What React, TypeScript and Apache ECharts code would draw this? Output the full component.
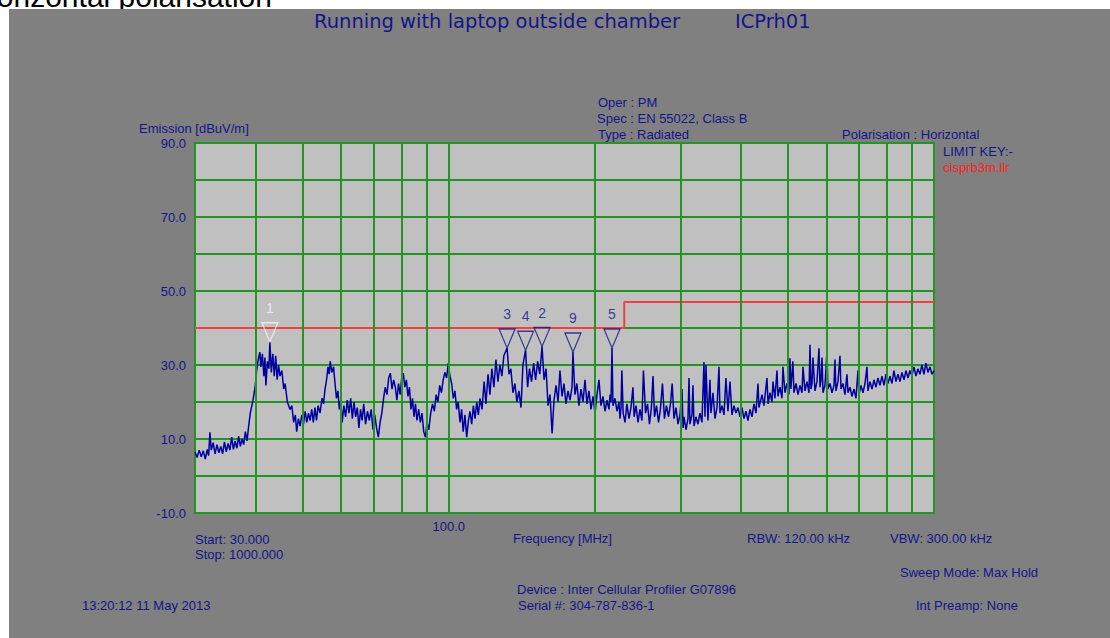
import React, { useEffect, useRef } from 'react';
import * as echarts from 'echarts';

// ---- data ----
const trace: [number, number][] = [
  [30.0, 6.5], [30.3, 5.0], [30.6, 7.0], [30.9, 5.2], [31.2, 6.8], [31.5, 4.6], [31.8, 7.2], [32.0, 5.5],
  [32.2, 11.8], [32.4, 7.0], [32.7, 9.0], [33.0, 6.0], [33.3, 8.5], [33.6, 6.3], [33.9, 8.0], [34.2, 6.0],
  [34.5, 9.2], [34.8, 6.5], [35.1, 8.8], [35.4, 7.0], [35.7, 10.5], [36.0, 7.2], [36.3, 9.5], [36.6, 7.5],
  [36.9, 10.8], [37.2, 8.0], [37.5, 10.0], [37.8, 8.5], [38.1, 12.0], [38.4, 9.5], [38.7, 13.5],
  [39.0, 17.0], [39.5, 20.5], [39.9, 24.0], [40.2, 28.5], [40.5, 31.5], [40.8, 33.5], [41.0, 29.5],
  [41.3, 33.0], [41.6, 27.0], [41.8, 32.0], [42.0, 24.5], [42.3, 31.0], [42.6, 29.0], [42.8, 36.3],
  [43.1, 28.0], [43.4, 33.0], [43.7, 27.0], [44.0, 32.5], [44.3, 26.0], [44.6, 30.0], [44.9, 27.0],
  [45.3, 28.5], [45.7, 23.5], [46.0, 25.0], [46.5, 20.0], [47.1, 18.0], [47.5, 19.0], [47.9, 14.5],
  [48.3, 16.5], [48.6, 12.0], [49.0, 15.5], [49.4, 13.5], [49.8, 16.5], [50.2, 14.0], [50.6, 17.5],
  [51.0, 14.5], [51.4, 17.0], [51.8, 15.0], [52.2, 18.0], [52.6, 14.5], [53.0, 18.5], [53.4, 15.0],
  [53.8, 19.0], [54.3, 17.0], [54.8, 21.0], [55.2, 19.5], [55.6, 23.5], [56.0, 26.0], [56.4, 29.5],
  [56.7, 27.5], [57.0, 31.0], [57.4, 28.0], [57.9, 29.5], [58.3, 25.0], [58.7, 21.0], [59.1, 23.0],
  [59.5, 18.0], [59.9, 20.5], [60.3, 14.5], [60.8, 19.0], [61.3, 16.0], [61.8, 20.5], [62.3, 17.0],
  [62.8, 21.0], [63.3, 15.5], [63.8, 20.0], [64.3, 16.0], [64.8, 18.5], [65.3, 13.0], [65.8, 18.0],
  [66.3, 15.0], [66.8, 19.5], [67.4, 14.0], [68.0, 17.5], [68.6, 15.0], [69.2, 18.0], [69.8, 12.5],
  [70.4, 16.5], [71.0, 13.0], [71.6, 10.5], [72.2, 14.5], [72.8, 17.0], [73.4, 21.0], [74.0, 24.0],
  [74.6, 22.0], [75.2, 26.5], [75.8, 27.8], [76.4, 23.5], [77.0, 26.0], [77.6, 24.0], [78.2, 20.5],
  [78.8, 25.0], [79.4, 22.0], [80.0, 26.5], [80.6, 27.8], [81.2, 24.0], [81.8, 26.0], [82.4, 21.5],
  [83.0, 24.0], [83.6, 18.0], [84.2, 21.0], [84.8, 16.0], [85.4, 19.5], [86.0, 15.0], [86.7, 18.0],
  [87.4, 14.5], [88.1, 17.0], [88.8, 12.0], [89.5, 10.5], [90.2, 14.5], [91.0, 12.5], [91.8, 17.0],
  [92.6, 19.5], [93.4, 17.5], [94.2, 22.0], [95.0, 20.0], [95.8, 24.5], [96.6, 22.5], [97.4, 26.0],
  [98.2, 28.0], [99.0, 26.5], [99.8, 30.5], [100.6, 27.0], [101.4, 25.0], [102.2, 21.0], [103.0, 23.0],
  [103.8, 18.0], [104.6, 20.0], [105.5, 14.5], [106.3, 18.0], [107.1, 12.0], [108.0, 16.5], [108.9, 10.5],
  [109.8, 15.0], [110.6, 17.5], [111.5, 14.0], [112.4, 19.0], [113.3, 15.5], [114.2, 20.0], [115.1, 16.5],
  [116.0, 21.0], [117.1, 18.0], [118.3, 25.5], [119.3, 19.5], [120.5, 27.5], [121.6, 22.0], [122.7, 29.0],
  [123.9, 24.0], [125.1, 31.5], [126.3, 25.5], [127.5, 30.0], [128.7, 27.0], [129.9, 32.5], [131.9, 34.6],
  [133.1, 27.5], [134.3, 29.0], [135.6, 22.5], [136.9, 25.0], [138.2, 20.0], [139.5, 23.0], [140.9, 18.5],
  [142.2, 30.0], [144.0, 34.0], [145.4, 24.0], [146.7, 29.0], [148.1, 25.5], [149.6, 30.5], [151.0, 26.0],
  [152.5, 31.0], [154.0, 27.5], [155.7, 35.0], [157.2, 26.0], [158.7, 29.0], [160.2, 19.0], [161.7, 22.0],
  [163.3, 11.5], [164.8, 20.5], [166.4, 24.5], [168.0, 20.0], [169.5, 28.5], [171.2, 21.5], [172.8, 25.0],
  [174.4, 19.5], [176.1, 23.0], [177.8, 20.5], [179.5, 24.0], [180.3, 33.5], [182.0, 22.0], [183.7, 25.0],
  [185.5, 19.0], [187.3, 23.5], [189.1, 20.0], [190.9, 26.0], [192.7, 19.5], [194.5, 23.0], [196.4, 18.0],
  [198.3, 21.5], [200.2, 17.0], [202.1, 22.0], [204.0, 26.0], [205.9, 19.0], [207.9, 21.5], [209.9, 17.5],
  [211.9, 20.5], [213.9, 18.0], [215.0, 22.0], [216.0, 20.0], [217.0, 34.6], [218.0, 19.0], [220.1, 21.0],
  [222.2, 17.5], [224.3, 20.0], [225.4, 15.5], [226.5, 18.5], [227.4, 28.5], [228.8, 17.0], [230.8, 14.5],
  [232.9, 19.5], [235.2, 15.5], [237.4, 18.5], [239.7, 24.0], [241.0, 16.0], [243.2, 19.0], [245.5, 14.5],
  [247.8, 18.0], [250.1, 15.0], [251.9, 28.5], [254.4, 17.0], [256.8, 19.5], [259.2, 14.0], [261.6, 18.5],
  [263.6, 27.0], [265.5, 16.0], [268.0, 19.0], [270.6, 14.5], [273.0, 18.0], [275.7, 25.0], [278.3, 15.5],
  [281.0, 19.0], [283.7, 16.0], [286.4, 19.5], [288.7, 25.0], [291.2, 15.5], [294.0, 18.5], [296.8, 14.0],
  [299.6, 16.5], [302.5, 23.5], [304.0, 13.0], [305.4, 16.0], [308.3, 12.5], [311.2, 15.5], [312.7, 26.5],
  [314.1, 14.0], [317.1, 16.5], [318.6, 24.5], [320.2, 13.5], [323.2, 16.0], [326.3, 14.0], [329.4, 17.0],
  [332.5, 14.5], [335.7, 30.8], [337.3, 16.0], [338.9, 30.0], [342.1, 15.0], [345.4, 26.0], [347.0, 17.0],
  [350.4, 22.5], [353.7, 15.5], [357.1, 18.5], [360.5, 29.5], [362.2, 17.0], [365.7, 19.0], [369.2, 16.5],
  [372.6, 26.5], [376.2, 17.5], [379.8, 25.5], [383.4, 16.5], [387.1, 19.0], [390.8, 17.0], [394.5, 18.5],
  [398.3, 16.0], [402.1, 18.5], [405.9, 15.5], [409.7, 17.5], [413.7, 15.0], [417.6, 18.0], [421.6, 16.0],
  [425.6, 19.5], [429.7, 17.0], [433.8, 25.0], [435.8, 18.5], [442.1, 22.0], [446.3, 19.0], [452.7, 26.5],
  [455.0, 19.5], [459.2, 22.5], [463.6, 20.0], [465.8, 25.5], [470.2, 21.0], [474.7, 28.5], [477.0, 21.5],
  [481.5, 24.0], [486.1, 21.0], [488.4, 29.5], [493.0, 22.5], [497.7, 25.0], [502.4, 22.0], [504.8, 31.8],
  [507.2, 23.5], [511.9, 31.0], [514.5, 22.5], [519.5, 25.0], [524.5, 22.0], [529.5, 24.5], [534.6, 22.5],
  [537.1, 29.5], [542.2, 23.0], [547.4, 25.5], [552.6, 22.5], [555.2, 35.5], [557.8, 23.5], [560.5, 25.0],
  [563.1, 32.0], [568.5, 23.0], [573.9, 25.5], [579.4, 34.5], [582.2, 24.0], [585.0, 26.0], [587.8, 32.0],
  [590.6, 22.5], [596.1, 24.5], [601.8, 33.5], [604.6, 23.5], [610.4, 25.0], [616.3, 22.5], [622.1, 24.5],
  [625.1, 31.5], [628.0, 23.0], [634.0, 25.5], [640.1, 32.5], [643.2, 23.5], [649.2, 25.0], [655.4, 22.0],
  [661.7, 27.5], [664.9, 22.5], [671.2, 24.0], [677.6, 21.5], [684.1, 23.5], [690.6, 21.0], [697.1, 28.5],
  [700.4, 22.0], [707.1, 24.5], [713.9, 22.5], [720.7, 25.0], [727.5, 29.5], [731.0, 23.0], [738.0, 25.5],
  [745.1, 23.5], [752.2, 26.0], [759.3, 24.0], [766.5, 26.5], [773.8, 24.5], [781.2, 27.0], [788.7, 24.5],
  [796.2, 27.5], [803.8, 25.0], [811.4, 27.0], [819.1, 25.0], [826.9, 28.5], [834.8, 25.5], [842.8, 27.5],
  [850.8, 25.5], [859.0, 28.0], [867.1, 26.0], [875.4, 28.5], [883.7, 26.5], [892.1, 28.5], [900.6, 27.0],
  [909.2, 29.5], [917.9, 27.0], [926.6, 29.0], [935.5, 27.5], [944.4, 30.0], [953.4, 27.5], [962.5, 30.5],
  [971.7, 28.0], [980.9, 29.5], [990.4, 27.5], [1000, 28.5],
];

const limitLine: [number, number][] = [[30, 40], [230, 40], [230, 47], [1000, 47]];

const markerIds = ['1', '3', '4', '2', '9', '5'];
const markerFreq = [42.8, 131.9, 144.0, 155.7, 180.3, 217.0];
const markerLevel = [36.3, 34.6, 34.0, 35.0, 33.5, 34.6];

const gridFreqs = [40, 50, 60, 70, 80, 90, 100, 200, 300, 400, 500, 600, 700, 800, 900];
const yLabelValues = [90, 70, 50, 30, 10, -10];

const NAVY = '#14148a';
const GREEN = '#249424';
const FONT = '"Liberation Sans", Arial, sans-serif';

function txt(text: string, x: number, y: number, extra: any = {}) {
  return {
    type: 'text',
    x,
    y,
    z: extra.z || 12,
    style: {
      text,
      fill: extra.fill || NAVY,
      font: extra.font || `13px ${FONT}`,
      textAlign: extra.align || 'left',
      textVerticalAlign: extra.valign || 'middle',
    },
  };
}

export default function App() {
  const ref = useRef<HTMLDivElement>(null);
  useEffect(() => {
    if (!ref.current) return;
    const chart = echarts.init(ref.current, undefined, { renderer: 'svg' });
    const option: any = {
      animation: false,
      backgroundColor: '#808080',
      textStyle: { fontFamily: FONT },
      grid: {
        left: 195,
        right: 176,
        top: 143,
        bottom: 125,
        show: true,
        backgroundColor: '#c0c0c0',
        borderColor: GREEN,
        borderWidth: 2,
      },
      xAxis: {
        type: 'log',
        logBase: 10,
        min: 30,
        max: 1000,
        axisLine: { show: false },
        axisTick: { show: false },
        splitLine: { show: false },
        axisLabel: {
          color: NAVY,
          fontSize: 13,
          margin: 7,
          formatter: (v: number) => (Math.abs(v - 100) < 0.01 ? '100.0' : ''),
        },
      },
      yAxis: {
        type: 'value',
        min: -10,
        max: 90,
        interval: 10,
        axisLine: { show: false },
        axisTick: { show: false },
        splitLine: { show: true, lineStyle: { color: GREEN, width: 2 } },
        axisLabel: {
          color: NAVY,
          fontSize: 13,
          margin: 9,
          formatter: (v: number) => (yLabelValues.indexOf(v) >= 0 ? v.toFixed(1) : ''),
        },
      },
      series: [
        {
          type: 'line',
          name: 'gridlines',
          data: [[30, -10]],
          symbol: 'none',
          lineStyle: { opacity: 0 },
          silent: true,
          z: 1,
          markLine: {
            silent: true,
            symbol: 'none',
            label: { show: false },
            lineStyle: { color: GREEN, width: 2, type: 'solid' },
            data: gridFreqs.map((f) => ({ xAxis: f })),
          },
        },
        {
          type: 'line',
          name: 'limit',
          data: limitLine,
          symbol: 'none',
          lineStyle: { color: '#f04040', width: 2 },
          z: 2,
        },
        {
          type: 'line',
          name: 'trace',
          data: trace,
          symbol: 'none',
          lineStyle: { color: '#0000a0', width: 1.5 },
          z: 3,
        },
        {
          type: 'scatter',
          name: 'markers',
          z: 4,
          symbol: 'path://M0,0L16,0L8,18Z',
          symbolSize: [16, 19],
          symbolOffset: [0, '-50%'],
          data: markerIds.map((id, i) => {
            const c = id === '1' ? '#f4f4f4' : NAVY;
            return {
              name: id,
              value: [markerFreq[i], markerLevel[i]],
              itemStyle: { color: 'rgba(0,0,0,0)', borderColor: c, borderWidth: 1.3 },
              label: {
                show: true,
                position: 'top',
                distance: 7,
                formatter: id,
                color: c,
                fontSize: 14,
                fontFamily: FONT,
              },
            };
          }),
        },
      ],
      graphic: [
        { type: 'rect', z: 1, shape: { x: 0, y: 0, width: 1110, height: 9 }, style: { fill: '#ffffff' } },
        { type: 'rect', z: 1, shape: { x: 0, y: 0, width: 9, height: 638 }, style: { fill: '#ffffff' } },
        txt('Horizontal polarisation', 272, 11, { fill: '#000000', font: `30px ${FONT}`, align: 'right', valign: 'bottom', z: 2 }),
        { type: 'rect', z: 3, shape: { x: 9, y: 9, width: 290, height: 6 }, style: { fill: '#808080' } },
        txt('Running with laptop outside chamber', 314, 21, { font: `19.5px "DejaVu Sans", sans-serif` }),
        txt('ICPrh01', 735, 21, { font: `19.5px "DejaVu Sans", sans-serif` }),
        txt('Oper : PM', 598, 102),
        txt('Spec : EN 55022, Class B', 597, 118),
        txt('Type : Radiated', 598, 134),
        txt('Polarisation : Horizontal', 842, 134),
        txt('LIMIT KEY:-', 943, 151),
        txt('cisprb3m.llr', 943, 167, { fill: '#ff2020' }),
        txt('Emission [dBuV/m]', 139, 128),
        txt('Start: 30.000', 195, 539),
        txt('Stop: 1000.000', 195, 554),
        txt('Frequency [MHz]', 513, 538),
        txt('RBW: 120.00 kHz', 747, 538),
        txt('VBW: 300.00 kHz', 890, 538),
        txt('Sweep Mode: Max Hold', 900, 572),
        txt('Device : Inter Cellular Profiler G07896', 517, 589),
        txt('Serial #: 304-787-836-1', 518, 605),
        txt('13:20:12 11 May 2013', 82, 605),
        txt('Int Preamp: None', 916, 605),
      ],
    };
    chart.setOption(option);
    return () => chart.dispose();
  }, []);
  return (
    <div
      ref={ref}
      style={{ position: 'absolute', left: 0, top: 0, width: 1110, height: 638 }}
    />
  );
}
